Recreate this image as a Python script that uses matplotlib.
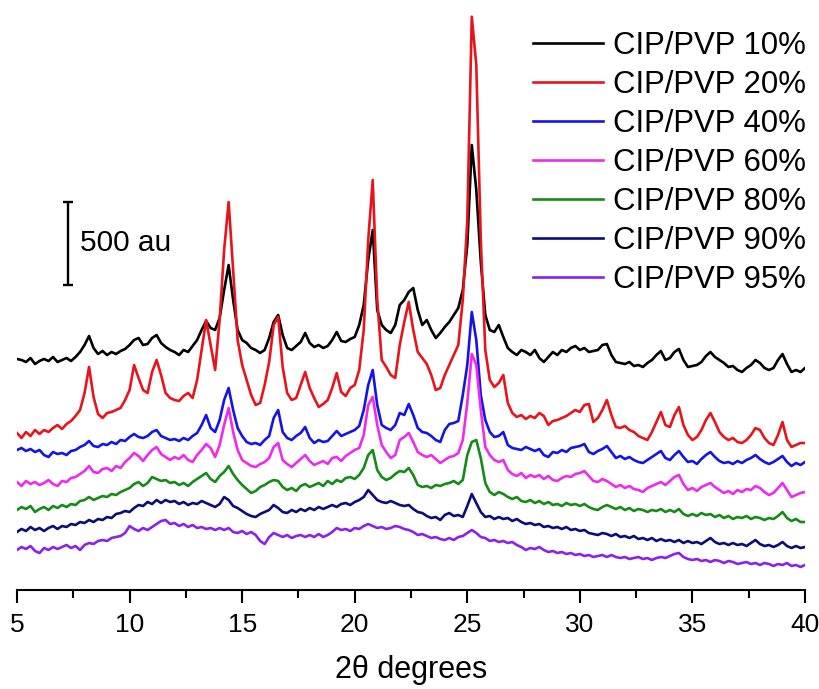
import numpy as np
import matplotlib
matplotlib.use('Agg')
import matplotlib.pyplot as plt
from matplotlib.ticker import MultipleLocator

plt.rcParams['font.family'] = ['Liberation Sans', 'DejaVu Sans']

# 2theta grid of the readings (degrees), one value every 0.2 deg
two_theta = np.round(np.arange(5.0, 40.01, 0.2), 1)

# intensities in au as stacked on the plot (rows of 2 deg)
cip_10 = [1386, 1380, 1368, 1392, 1356, 1374, 1386, 1374, 1398, 1368,
          1380, 1392, 1374, 1398, 1428, 1470, 1524, 1452, 1416, 1434,
          1410, 1428, 1416, 1434, 1446, 1470, 1500, 1512, 1470, 1476,
          1512, 1530, 1482, 1458, 1440, 1428, 1410, 1440, 1428, 1464,
          1500, 1560, 1614, 1572, 1560, 1632, 1800, 1950, 1740, 1560,
          1500, 1482, 1452, 1440, 1422, 1440, 1512, 1608, 1650, 1530,
          1452, 1440, 1464, 1488, 1542, 1482, 1458, 1470, 1452, 1464,
          1500, 1548, 1494, 1488, 1506, 1518, 1590, 1710, 1980, 2160,
          1680, 1590, 1560, 1542, 1590, 1710, 1740, 1788, 1812, 1680,
          1590, 1620, 1560, 1512, 1542, 1578, 1608, 1650, 1692, 1800,
          2070, 2670, 2400, 1968, 1650, 1560, 1548, 1590, 1518, 1452,
          1428, 1410, 1440, 1428, 1410, 1440, 1392, 1368, 1398, 1428,
          1410, 1440, 1428, 1452, 1464, 1440, 1452, 1428, 1434, 1440,
          1470, 1476, 1410, 1368, 1362, 1356, 1368, 1344, 1350, 1338,
          1362, 1380, 1410, 1434, 1380, 1392, 1428, 1446, 1380, 1338,
          1344, 1350, 1368, 1404, 1428, 1398, 1380, 1362, 1338, 1344,
          1320, 1308, 1332, 1350, 1380, 1362, 1332, 1320, 1332, 1380,
          1416, 1356, 1308, 1320, 1308, 1332]

cip_20 = [942, 912, 948, 924, 960, 936, 960, 948, 972, 990,
          966, 996, 1014, 1044, 1080, 1182, 1338, 1158, 1056, 1032,
          1062, 1068, 1080, 1092, 1140, 1200, 1350, 1272, 1200, 1182,
          1308, 1380, 1290, 1182, 1152, 1140, 1134, 1164, 1182, 1152,
          1260, 1440, 1620, 1470, 1320, 1620, 2040, 2328, 1920, 1500,
          1350, 1260, 1170, 1110, 1122, 1230, 1368, 1590, 1638, 1338,
          1182, 1140, 1152, 1230, 1308, 1212, 1152, 1098, 1116, 1140,
          1212, 1302, 1188, 1164, 1212, 1230, 1320, 1560, 2100, 2460,
          1740, 1380, 1338, 1290, 1272, 1470, 1608, 1728, 1560, 1428,
          1392, 1356, 1290, 1200, 1212, 1290, 1350, 1410, 1470, 1740,
          2220, 3440, 3150, 2100, 1440, 1260, 1218, 1242, 1290, 1122,
          1062, 1038, 1050, 1026, 1044, 1032, 1062, 1044, 990, 1014,
          1020, 1032, 1044, 1062, 1080, 1068, 1110, 1116, 1008, 1032,
          1080, 1140, 1050, 978, 972, 984, 960, 948, 924, 912,
          900, 948, 1008, 1068, 990, 978, 1050, 1098, 990, 930,
          900, 918, 960, 1020, 1062, 1008, 948, 918, 900, 912,
          888, 882, 900, 930, 972, 960, 912, 882, 870, 930,
          1008, 900, 858, 870, 882, 882]

cip_40 = [840, 852, 834, 846, 828, 840, 810, 798, 828, 816,
          822, 810, 834, 840, 858, 870, 894, 864, 858, 876,
          870, 888, 876, 900, 894, 918, 936, 918, 912, 924,
          948, 960, 924, 912, 900, 906, 894, 912, 900, 924,
          942, 990, 1050, 972, 948, 1020, 1140, 1212, 1080, 972,
          924, 888, 876, 882, 870, 900, 924, 1032, 1080, 948,
          912, 900, 924, 942, 978, 912, 882, 900, 888, 894,
          924, 954, 924, 936, 948, 960, 984, 1080, 1230, 1320,
          1110, 990, 972, 960, 990, 1062, 1050, 1116, 1050, 972,
          948, 942, 924, 900, 888, 960, 996, 1002, 1014, 1170,
          1350, 1668, 1500, 1170, 1020, 948, 918, 924, 948, 870,
          852, 846, 840, 858, 846, 834, 846, 810, 798, 828,
          822, 840, 828, 852, 858, 864, 876, 828, 816, 834,
          846, 864, 828, 792, 804, 786, 798, 780, 768, 762,
          780, 798, 816, 834, 792, 780, 810, 834, 798, 768,
          774, 756, 786, 810, 828, 798, 774, 762, 768, 756,
          774, 762, 780, 792, 810, 786, 768, 756, 768, 786,
          804, 768, 744, 762, 750, 768]

cip_60 = [648, 624, 654, 636, 648, 630, 642, 660, 636, 624,
          654, 648, 672, 678, 696, 714, 744, 708, 702, 726,
          732, 714, 744, 732, 768, 792, 822, 804, 774, 810,
          840, 858, 816, 798, 780, 798, 786, 810, 780, 768,
          810, 840, 876, 852, 798, 870, 990, 1092, 948, 840,
          780, 762, 744, 738, 756, 768, 792, 858, 882, 780,
          756, 738, 762, 786, 810, 774, 750, 762, 774, 756,
          792, 798, 774, 804, 822, 840, 852, 930, 1110, 1158,
          990, 870, 828, 792, 810, 900, 918, 942, 888, 828,
          810, 798, 810, 786, 762, 780, 798, 804, 822, 900,
          1122, 1416, 1350, 1080, 858, 810, 780, 768, 780, 720,
          696, 684, 702, 672, 690, 678, 690, 666, 684, 660,
          654, 672, 684, 678, 696, 702, 714, 684, 654, 648,
          666, 654, 636, 618, 630, 612, 624, 606, 600, 588,
          612, 624, 636, 648, 630, 654, 678, 690, 636, 600,
          612, 594, 618, 630, 642, 618, 600, 582, 594, 576,
          600, 588, 606, 600, 624, 612, 588, 570, 582, 612,
          642, 600, 558, 570, 582, 588]

cip_80 = [480, 498, 486, 504, 468, 486, 498, 480, 504, 492,
          510, 498, 516, 510, 534, 540, 558, 540, 552, 564,
          558, 576, 570, 588, 600, 612, 636, 648, 624, 642,
          678, 666, 654, 660, 642, 648, 630, 642, 624, 648,
          666, 684, 702, 666, 648, 684, 708, 744, 696, 660,
          630, 606, 582, 594, 618, 630, 648, 660, 654, 618,
          600, 612, 594, 624, 636, 618, 630, 642, 624, 654,
          636, 660, 648, 672, 678, 666, 690, 732, 810, 840,
          720, 678, 660, 672, 696, 714, 708, 732, 690, 630,
          618, 624, 612, 630, 624, 636, 642, 654, 636, 660,
          810, 888, 900, 792, 642, 588, 570, 588, 576, 558,
          546, 558, 534, 528, 540, 522, 534, 516, 528, 510,
          516, 504, 522, 510, 516, 504, 516, 498, 486, 480,
          498, 510, 498, 486, 498, 480, 492, 474, 486, 480,
          468, 480, 474, 486, 468, 480, 468, 486, 456, 444,
          456, 444, 462, 450, 456, 438, 450, 432, 444, 426,
          438, 432, 444, 426, 438, 432, 420, 432, 426, 444,
          468, 432, 414, 426, 408, 408]

cip_90 = [348, 366, 354, 378, 360, 372, 354, 372, 384, 366,
          384, 378, 396, 390, 408, 402, 420, 408, 426, 420,
          438, 432, 456, 462, 474, 468, 492, 510, 504, 528,
          516, 540, 522, 540, 528, 534, 516, 528, 510, 522,
          516, 534, 522, 510, 498, 516, 558, 540, 504, 492,
          474, 456, 444, 438, 456, 468, 480, 510, 492, 468,
          462, 480, 468, 486, 474, 492, 480, 498, 486, 498,
          510, 498, 516, 522, 510, 528, 540, 558, 600, 570,
          540, 528, 522, 534, 522, 510, 504, 510, 486, 468,
          462, 444, 432, 438, 420, 450, 462, 444, 450, 438,
          504, 576, 522, 468, 438, 444, 426, 438, 426, 432,
          414, 426, 408, 396, 402, 390, 396, 378, 384, 372,
          378, 366, 378, 360, 366, 354, 360, 342, 336, 330,
          342, 336, 324, 336, 318, 324, 312, 324, 306, 312,
          300, 312, 294, 306, 294, 300, 288, 300, 282, 294,
          282, 288, 276, 294, 312, 288, 276, 282, 270, 282,
          270, 276, 264, 282, 300, 276, 264, 270, 258, 270,
          288, 264, 252, 264, 252, 258]

cip_95 = [240, 258, 246, 264, 234, 222, 252, 240, 258, 246,
          258, 270, 252, 264, 240, 270, 282, 276, 294, 300,
          294, 312, 318, 324, 342, 384, 366, 354, 372, 360,
          378, 396, 414, 420, 396, 402, 384, 396, 378, 390,
          372, 378, 366, 372, 360, 372, 360, 372, 348, 342,
          354, 336, 348, 330, 294, 276, 318, 342, 330, 318,
          330, 312, 324, 330, 318, 330, 318, 336, 318, 330,
          348, 372, 360, 366, 354, 372, 366, 384, 396, 384,
          372, 378, 366, 372, 384, 378, 366, 360, 348, 330,
          336, 324, 312, 318, 306, 300, 312, 300, 318, 324,
          342, 360, 342, 318, 312, 294, 300, 288, 294, 282,
          288, 270, 258, 240, 252, 246, 258, 240, 228, 234,
          222, 228, 216, 222, 210, 216, 204, 210, 198, 204,
          210, 198, 210, 198, 192, 198, 186, 192, 198, 186,
          192, 180, 192, 198, 192, 204, 216, 222, 198, 186,
          180, 186, 174, 180, 168, 180, 174, 162, 174, 168,
          156, 162, 168, 156, 162, 150, 162, 156, 144, 156,
          150, 162, 144, 150, 138, 150]

series = [cip_10, cip_20, cip_40, cip_60, cip_80, cip_90, cip_95]
labels = ['CIP/PVP 10%', 'CIP/PVP 20%', 'CIP/PVP 40%', 'CIP/PVP 60%',
          'CIP/PVP 80%', 'CIP/PVP 90%', 'CIP/PVP 95%']
colors = ['#000000', '#e8141c', '#1414e6', '#ee2aee', '#168a16', '#0c0c7a', '#8a22ea']

bar_x, bar_y, bar_len = 7.25, 1830, 500     # scale bar: 500 au

fig = plt.figure(figsize=(8.2, 6.89), dpi=100)
ax = fig.add_axes([17 / 820, 99 / 689, 788 / 820, 590 / 689])

for y, lab, col in zip(series, labels, colors):
    ax.plot(two_theta, y, color=col, linewidth=1.9, label=lab)

# scale bar
ax.errorbar([bar_x], [bar_y + bar_len / 2], yerr=bar_len / 2, color='black',
            linewidth=1.7, capsize=3.5, capthick=1.7)
ax.text(bar_x + 0.55, bar_y + bar_len / 2, '500 au', fontsize=21.5,
        ha='left', va='center')

ax.set_xlim(5, 40)
ax.set_ylim(0, 3540)
ax.xaxis.set_major_locator(MultipleLocator(5))
ax.xaxis.set_minor_locator(MultipleLocator(2.5))
ax.tick_params(axis='x', which='major', direction='out', length=9.5, width=1.5,
               labelsize=19, pad=7)
ax.tick_params(axis='x', which='minor', direction='out', length=5.5, width=1.5)
ax.set_yticks([])
for s in ['left', 'right', 'top']:
    ax.spines[s].set_visible(False)
ax.spines['bottom'].set_linewidth(1.5)

ax.set_xlabel('2\u03b8 degrees', fontsize=22, labelpad=13)

ax.legend(loc='upper right', bbox_to_anchor=(806 / 820, 1 - 31 / 689),
          bbox_transform=fig.transFigure, frameon=False, fontsize=22.4,
          handlelength=2.26, handletextpad=0.32, labelspacing=0.29,
          borderpad=0, borderaxespad=0)

fig.savefig('out.png', dpi=100)
